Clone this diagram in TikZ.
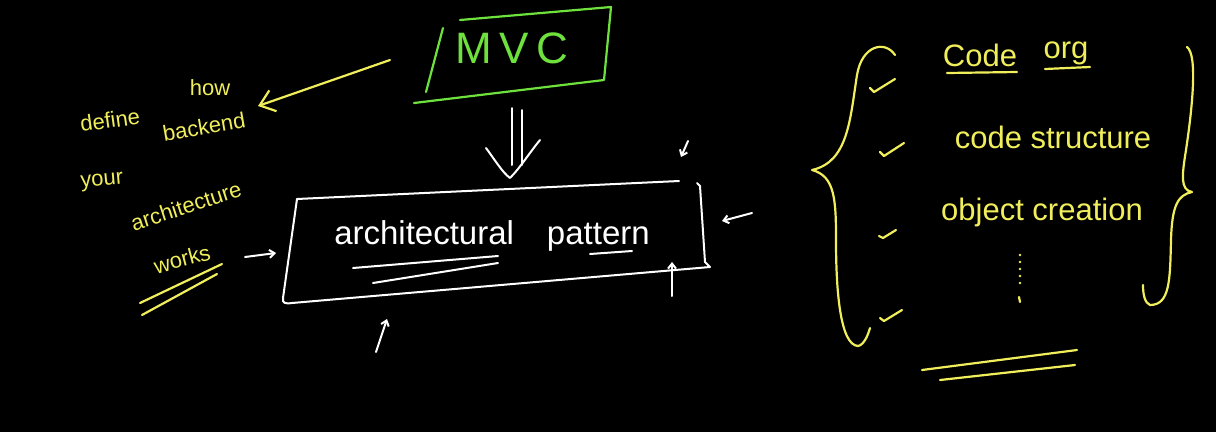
\documentclass[tikz,border=0pt]{standalone}
\usepackage{fontspec}
\setmainfont{Liberation Sans}
\usetikzlibrary{arrows.meta}
\definecolor{hwyellow}{RGB}{240,238,90}
\definecolor{hwgreen}{RGB}{110,225,60}
\tikzset{
  yel/.style={draw=hwyellow, line width=2.2pt},
  wht/.style={draw=white, line width=2pt},
  grn/.style={draw=hwgreen, line width=2.2pt},
  ytext/.style={text=hwyellow, inner sep=0pt, font=\fontsize{22}{26}\selectfont},
  rtext/.style={text=hwyellow, inner sep=0pt, font=\fontsize{31}{34}\selectfont},
  wtext/.style={text=white, inner sep=0pt, font=\fontsize{33}{36}\selectfont},
  smallhead/.style={-{Straight Barb[length=5pt,width=8pt]}},
}
\begin{document}
\begin{tikzpicture}[x=1pt,y=-1pt,line cap=round,line join=round]
\fill[black] (0,0) rectangle (1216,432);
\useasboundingbox (0,0) rectangle (1216,432);

% MVC box
\draw[grn] (460,20) -- (611,7) -- (604,80) -- (414,103);
\draw[grn] (443,28) -- (426,92);
\node[text=hwgreen, inner sep=0pt, font=\fontsize{44}{48}\selectfont] (mvc) at (512,48) {M\,V\,C};

% double arrow
\coordinate (da1) at (512,108);
\coordinate (da2) at (522,110);
\coordinate (dah) at (510,178);
\draw[wht] (da1) -- (512,165);
\draw[wht] (da2) -- (522,165);
\draw[wht] (486,148) .. controls (495,160) and (502,172) .. (dah) .. controls (520,168) and (530,152) .. (540,140);

% architectural pattern box
\draw[wht] (297,199) -- (679,181);
\draw[wht] (297,199) -- (283,298) .. controls (282,303) and (285,304) .. (292,303) -- (710,267);
\draw[wht] (697,183) -- (700,186) -- (705,262) -- (710,267);
\node[wtext] (ap) at (492,236) {architectural\quad pattern};
\draw[wht] (353,268) -- (498,256);
\draw[wht] (373,283) -- (498,263);
\draw[wht] (590,254) -- (632,251);

% small white arrows around the box
\coordinate (al0) at (245,257); \coordinate (al1) at (276,253);
\draw[wht,smallhead] (al0) -- (al1);
\coordinate (ar0) at (752,213); \coordinate (ar1) at (722,221);
\draw[wht,smallhead] (ar0) -- (ar1);
\coordinate (at0) at (688,141); \coordinate (at1) at (681,157);
\draw[wht,smallhead] (at0) -- (at1);
\coordinate (ab0) at (376,352); \coordinate (ab1) at (387,319);
\draw[wht,smallhead] (ab0) -- (ab1);
\coordinate (ac0) at (672,296); \coordinate (ac1) at (672,262);
\draw[wht,smallhead] (ac0) -- (ac1);

% yellow arrow to the note
\coordinate (ya0) at (390,60); \coordinate (ya1) at (258,106);
\draw[yel,-{Straight Barb[length=14pt,width=22pt]}] (ya0) -- (ya1);

% left yellow note
\node[ytext, rotate=8] (w1) at (110,120) {define};
\node[ytext] (w2) at (210,88) {how};
\node[ytext, rotate=5] (w3) at (102,182) {your};
\node[ytext, rotate=10] (w4) at (204,127) {backend};
\node[ytext, rotate=18] (w5) at (186,206) {architecture};
\node[ytext, rotate=15] (w6) at (182,259) {works};
\draw[yel] (140,303) -- (222,264);
\draw[yel] (142,315) -- (217,274);

% left brace
\draw[yel] (895,55) .. controls (885,40) and (862,45) .. (857,75)
  .. controls (850,120) and (848,162) .. (812,170)
  .. controls (835,176) and (836,200) .. (836,240)
  .. controls (836,290) and (840,345) .. (858,346)
  .. controls (864,345) and (868,335) .. (870,328);

% ticks
\draw[yel] (870,88) -- (874,92) -- (895,79);
\draw[yel] (880,152) -- (884,156) -- (904,143);
\draw[yel] (879,236) -- (883,238) -- (896,230);
\draw[yel] (880,318) -- (884,321) -- (902,310);

% right list
\node[rtext] (code) at (980,55) {Code};
\node[rtext] (org) at (1066,53) {org};
\draw[yel] (947,73) -- (1017,72);
\draw[yel] (1045,69) -- (1090,67);
\node[rtext] (cs) at (1053,137) {code structure};
\node[rtext] (oc) at (1042,212) {object creation};
\foreach \yy in {255,262,269,276,283} \fill[hwyellow] (1020,\yy) circle (1.3);
\draw[yel] (1019,297) -- (1020,302);

% right brace
\draw[yel] (1187,47) .. controls (1198,55) and (1192,110) .. (1186,150)
  .. controls (1182,175) and (1180,190) .. (1192,192)
  .. controls (1178,195) and (1172,205) .. (1171,240)
  .. controls (1170,280) and (1170,305) .. (1150,305)
  .. controls (1145,303) and (1143,295) .. (1143,285);

% bottom double underline
\draw[yel] (922,370) -- (1077,350);
\draw[yel] (940,380) -- (1075,365);
\end{tikzpicture}
\end{document}
